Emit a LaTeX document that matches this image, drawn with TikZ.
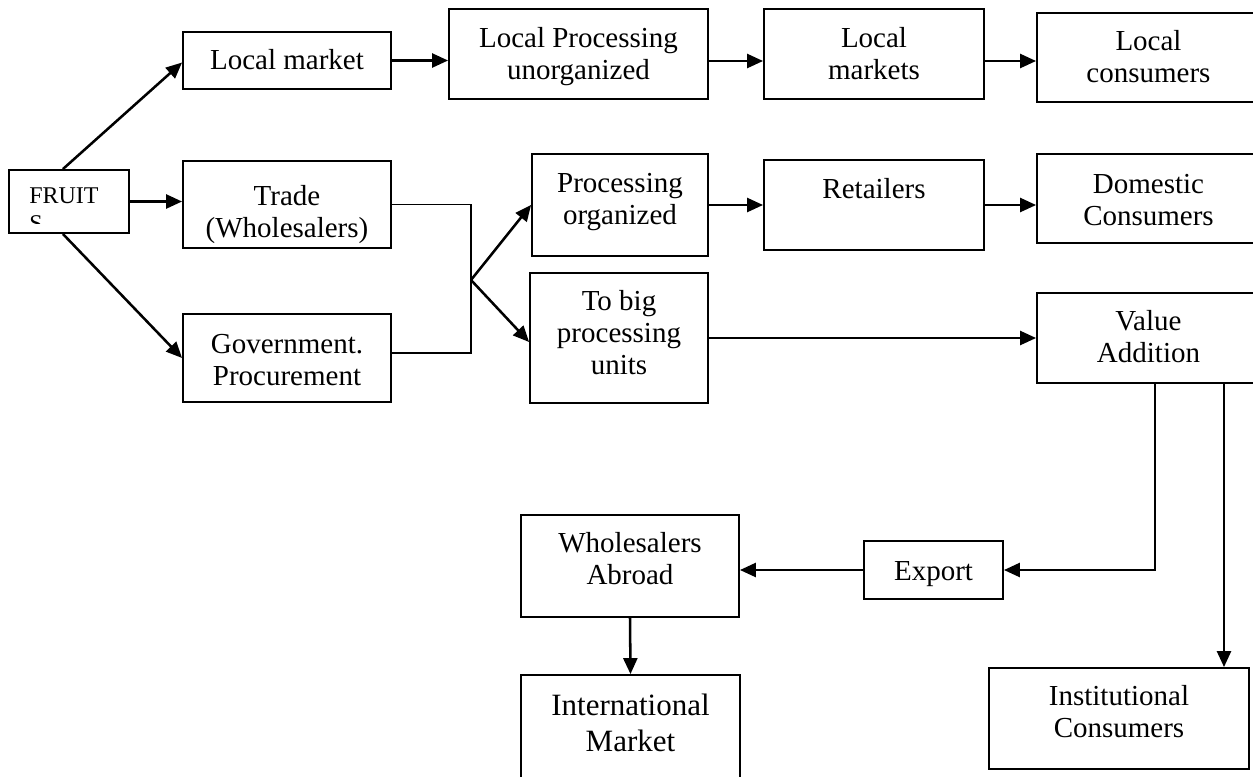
\documentclass[tikz,border=0pt]{standalone}
\usepackage{fontspec}
\setmainfont{Liberation Serif}
\usetikzlibrary{fit,calc,arrows.meta}

\begin{document}
\begin{tikzpicture}[x=0.75pt,y=-0.75pt,
  box/.style={draw, line width=1.4pt, inner sep=0pt},
  txt/.style={anchor=north, inner sep=0pt, align=center, yshift=16.8pt,
    font=\fontsize{21.75}{24}\selectfont},
  bigtxt/.style={anchor=north, inner sep=0pt, align=center, yshift=18.9pt,
    font=\fontsize{23.25}{27}\selectfont},
  smalltxt/.style={anchor=north west, inner sep=0pt, align=left, yshift=14.7pt,
    font=\fontsize{18}{21}\selectfont},
  arr/.style={line width=1.9pt, -{Triangle[length=12pt,width=10.5pt]}},
  link/.style={line width=1.4pt},
]
\useasboundingbox (0,0) rectangle (1253,776);
\clip (0,0) rectangle (1253,776);
\fill[white] (0,0) rectangle (1253,776);

% ---- boxes ----
\node[box, fit={(9,170) (129,233)}] (fr) {};
\node[box, fit={(183,32) (391,89)}] (lm) {};
\node[box, fit={(449,9) (708,99)}] (lp) {};
\node[box, fit={(764,9) (984,99)}] (lmk) {};
\node[box, fit={(1037,13) (1260,102)}] (lc) {};
\node[box, fit={(183,161) (391,248)}] (tr) {};
\node[box, fit={(532,154) (708,256)}] (po) {};
\node[box, fit={(764,160) (984,250)}] (rt) {};
\node[box, fit={(1037,154) (1260,243)}] (dc) {};
\node[box, fit={(183,314) (391,402)}] (gv) {};
\node[box, fit={(530,273) (708,403)}] (tb) {};
\node[box, fit={(1037,293) (1260,383)}] (va) {};
\node[box, fit={(864,541) (1003,599)}] (ex) {};
\node[box, fit={(521,515) (739,617)}] (wa) {};
\node[box, fit={(521,675) (740,800)}] (im) {};
\node[box, fit={(989,668) (1249,769)}] (ic) {};

% ---- labels ----
\begin{scope}
  \clip (9,170) rectangle (129,223);
  \node[smalltxt] (fr-t) at (29,203) {\strut FRUIT\\\strut S};
\end{scope}
\node[txt] (lm-t)  at (287,69)    {\strut Local market};
\node[txt] (lp-t)  at (578.5,47)  {\strut Local Processing\\\strut unorganized};
\node[txt] (lmk-t) at (874,47)    {\strut Local\\\strut markets};
\node[txt] (lc-t)  at (1148.5,50) {\strut Local\\\strut consumers};
\node[txt] (tr-t)  at (287,205)   {\strut Trade\\\strut (Wholesalers)};
\node[txt] (po-t)  at (620,192)   {\strut Processing\\\strut organized};
\node[txt] (rt-t)  at (874,198)   {\strut Retailers};
\node[txt] (dc-t)  at (1148.5,193){\strut Domestic\\\strut Consumers};
\node[txt] (gv-t)  at (287,353)   {\strut Government.\\\strut Procurement};
\node[txt] (tb-t)  at (619,310)   {\strut To big\\\strut processing\\\strut units};
\node[txt] (va-t)  at (1148.5,330){\strut Value\\\strut Addition};
\node[txt] (ex-t)  at (933.5,580) {\strut Export};
\node[txt] (wa-t)  at (630,552)   {\strut Wholesalers\\\strut Abroad};
\node[bigtxt] (im-t) at (630.5,715) {\strut International\\\strut Market};
\node[txt] (ic-t)  at (1119,705)  {\strut Institutional\\\strut Consumers};

% ---- connectors ----
\coordinate (j) at (471,280);
\draw[arr] ($(fr.north west)!0.45!(fr.north east)$) -- ($(lm.west)+(0,2)$);
\draw[arr] (fr.east) -- (fr.east -| tr.west);
\draw[arr] ($(fr.south west)!0.45!(fr.south east)$) -- (gv.west);

\draw[arr] (lm.east) -- (lm.east -| lp.west);
\draw[arr] ($(lp.east)+(0,7)$) coordinate (a1) -- (a1 -| lmk.west);
\draw[arr] ($(lmk.east)+(0,7)$) coordinate (a2) -- (a2 -| lc.west);

\draw[link] (tr.east) -| (j) |- ($(gv.east)+(0,-5)$);
\draw[arr] (j) -- (po.west);
\draw[arr] (j) -- ($(tb.west)+(0,4)$);

\draw[arr] (po.east) -- (po.east -| rt.west);
\draw[arr] (rt.east) -- (rt.east -| dc.west);

\draw[arr] (tb.east) -- (tb.east -| va.west);

\draw[arr] ($(va.south)+(6.5,0)$) |- (ex.east);
\draw[arr] ($(va.south)+(75.5,0)$) coordinate (v2) -- (v2 |- ic.north);

\draw[arr] (ex.west) -- (ex.west -| wa.east);
\draw[arr] (wa.south) -- (im.north);
\end{tikzpicture}
\end{document}
